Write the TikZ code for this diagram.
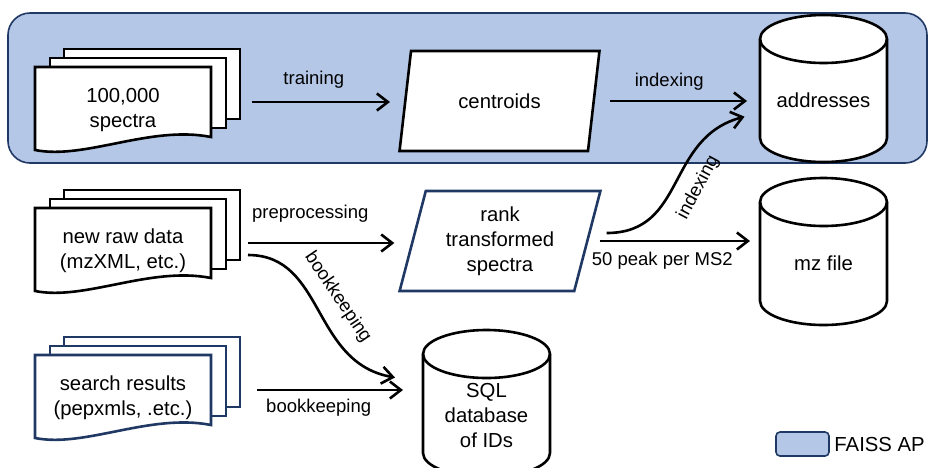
\documentclass[tikz,border=0pt]{standalone}
\usepackage{fontspec}
\setmainfont{Liberation Sans}
\usepackage{tikz}
\usetikzlibrary{arrows.meta, positioning, shapes.geometric}
\usepackage{xcolor}
\definecolor{faissblue}{HTML}{B4C7E7}
\definecolor{navy}{HTML}{203864}

\begin{document}
\begin{tikzpicture}[x=1pt,y=-1pt,line width=2.6pt,>={Straight Barb[length=11pt,width=17pt]}]
  \tikzstyle{boxtext}=[font=\fontsize{20.3}{25}\selectfont,align=center,text=black]
  \tikzstyle{lbl}=[font=\fontsize{18.5}{22}\selectfont,text=black]
  \tikzstyle{slanted}=[trapezium,trapezium left angle=75,trapezium right angle=105,
                       trapezium stretches=true,minimum width=201pt,minimum height=100pt,
                       draw,fill=white,boxtext]
  \tikzstyle{faissbox}=[draw=navy,fill=faissblue,line width=1.6pt,rounded corners=22pt]
  \tikzset{
    pics/docstack/.style={code={
      \foreach \dx/\dy in {29/-18,15/-9}
        \draw[fill=white] (\dx,\dy) rectangle ++(176,70);
      \draw[fill=white] (0,0) -- (176,0) -- (176,70)
        .. controls (115,58) and (50,93) .. (0,83) -- cycle;
      \node[boxtext] (-text) at (88,43) {#1};
      \coordinate (-east) at (205,35);
    }},
    pics/dbcyl/.style={code={
      \draw[fill=white] (-63.5,-49.5) -- (-63.5,49.5)
        arc[start angle=180,end angle=360,x radius=63.5pt,y radius=24pt]
        -- (63.5,-49.5)
        arc[start angle=0,end angle=180,x radius=63.5pt,y radius=24pt] -- cycle;
      \draw (-63.5,-49.5) arc[start angle=180,end angle=360,x radius=63.5pt,y radius=24pt];
      \node[boxtext] (-text) at (0,12) {#1};
      \coordinate (-west) at (-63.5,0);
    }}
  }

  \useasboundingbox (0,0) rectangle (928,467);
  \node[faissbox,minimum width=919pt,minimum height=150pt] (faiss) at (467.5,88) {};

  \pic                     (spectra)   at (35,67)      {docstack={100,000\\spectra}};
  \pic                     (rawdata)   at (35,208)     {docstack={new raw data\\(mzXML, etc.)}};
  \pic[color=navy]         (results)   at (35,355)     {docstack={search results\\(pepxmls, .etc.)}};
  \node[slanted]           (centroids) at (499.5,101)  {centroids};
  \node[slanted,draw=navy] (ranked)    at (500,241)    {rank\\transformed\\spectra};
  \pic                     (addresses) at (823.5,88.5) {dbcyl=addresses};
  \pic                     (mzfile)    at (823.5,251.5) {dbcyl={mz file}};
  \pic                     (sqldb)     at (486.5,403.5) {dbcyl={SQL\\database\\of IDs}};

  \node[draw=navy,fill=faissblue,line width=1.6pt,rounded corners=4pt,
        minimum width=53pt,minimum height=24pt] (legendkey) at (802.5,444) {};
  \node[boxtext,anchor=west] (legendtext) at (legendkey.east) {FAISS AP};

  \path[->]
  (spectra-east)   edge [shorten <=12pt,shorten >=14pt]
                   node[lbl,pos=.45,above=9pt] {training} (spectra-east -| centroids.west)
  (centroids.east) edge [shorten <=15pt,shorten >=13pt]
                   node[lbl,pos=.45,above=6pt] {indexing} (centroids.east -| addresses-west)
  (rawdata-east)   edge [shorten <=8pt,shorten >=17pt]
                   node[lbl,pos=.41,above=16pt] {preprocessing} (rawdata-east -| ranked.west)
  ([yshift=-12pt]rawdata-east) edge [out=0,in=170,looseness=1.1,shorten <=8pt]
                   node[lbl,pos=.5,rotate=-56,anchor=south,inner sep=14pt] {bookkeeping} ([shift={(-28,-26)}]sqldb-west)
  (results-east)   edge [shorten <=17pt,shorten >=20pt]
                   node[lbl,pos=.43,below=4pt] {bookkeeping} (results-east -| sqldb-west)
  (ranked.east)    edge [shorten <=11pt,shorten >=10pt]
                   node[lbl,pos=.43,below=6pt] {50 peak per MS2} (ranked.east -| mzfile-west)
  ([yshift=8pt]ranked.east) edge [out=0,in=195,looseness=1.2,shorten <=18pt,shorten >=16pt]
                   node[lbl,pos=.53,rotate=62,anchor=north,inner sep=12pt] {indexing} ([yshift=-24pt]addresses-west)
  ;
\end{tikzpicture}
\end{document}
